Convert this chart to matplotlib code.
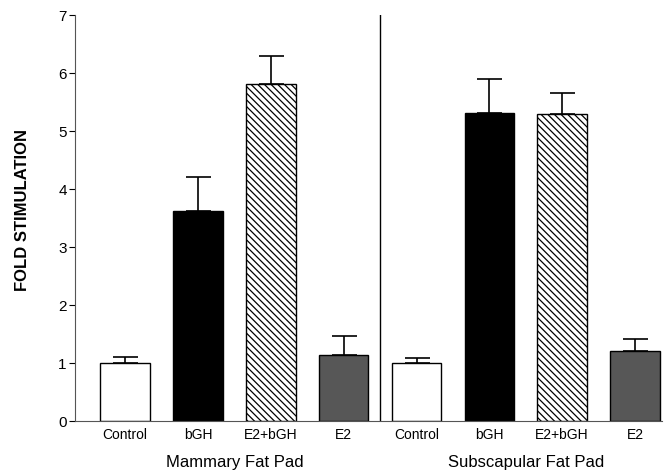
import matplotlib
matplotlib.use("Agg")
import matplotlib.pyplot as plt

plt.rcParams['font.family'] = ['Liberation Sans', 'DejaVu Sans']
plt.rcParams['hatch.linewidth'] = 0.9

categories = ["Control", "bGH", "E2+bGH", "E2", "Control", "bGH", "E2+bGH", "E2"]
values = [1.0, 3.62, 5.82, 1.13, 1.0, 5.32, 5.3, 1.21]
errors = [0.1, 0.59, 0.47, 0.33, 0.09, 0.58, 0.35, 0.21]
groups = ["Mammary Fat Pad", "Subscapular Fat Pad"]

facecolors = ["white", "black", "white", "#575757"] * 2
hatches = ["", "", "\\\\\\\\\\", ""] * 2

fig = plt.figure(figsize=(6.72, 4.72), dpi=100)
ax = fig.add_axes([0.1116, 0.108, 0.8734, 0.860])

x = list(range(len(values)))
for xi, v, e, fc, h in zip(x, values, errors, facecolors, hatches):
    ax.bar(xi, v, width=0.68, color=fc, edgecolor="black", linewidth=1.0, hatch=h, zorder=2)
    ax.errorbar(xi, v, yerr=[[0], [e]], fmt="none", ecolor="black", elinewidth=1.2, capsize=9, capthick=1.2, zorder=3)

ax.set_xlim(-0.69, 7.37)
ax.set_ylim(0, 7)
ax.set_yticks(range(8))
ax.set_xticks(x)
ax.set_xticklabels(categories, fontsize=10)
ax.tick_params(axis="x", length=0, pad=5)
ax.tick_params(axis="y", length=4, width=0.8, labelsize=11, colors="black", pad=2)
ax.spines["top"].set_visible(False)
ax.spines["right"].set_visible(False)
ax.spines["left"].set_linewidth(0.8)
ax.spines["bottom"].set_linewidth(0.8)
ax.spines["left"].set_color("#555555")
ax.spines["bottom"].set_color("#555555")

ax.axvline(3.5, color="black", linewidth=1.0, zorder=1)

ax.set_ylabel("FOLD STIMULATION", fontsize=12, fontweight="bold")
ax.yaxis.set_label_coords(-0.077, 0.52)

ax.text(1.5, -0.72, groups[0], ha="center", va="center", fontsize=12)
ax.text(5.5, -0.72, groups[1], ha="center", va="center", fontsize=12)

fig.savefig("out.png", dpi=100)
